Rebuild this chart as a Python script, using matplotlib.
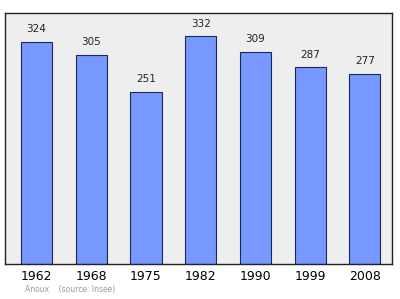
import matplotlib
matplotlib.use("Agg")
from matplotlib import pyplot as plt

years = ["1962", "1968", "1975", "1982", "1990", "1999", "2008"]
population = [324, 305, 251, 332, 309, 287, 277]

fig = plt.figure(figsize=(4, 2.99), dpi=100)
ax = fig.add_axes([0.0125, 0.117, 0.968, 0.84])
ax.set_facecolor("#eeeeee")

x = range(len(years))
ax.bar(x, population, width=0.57, color="#7799ff", edgecolor="#1a2a55", linewidth=0.8)
for i, v in enumerate(population):
    ax.text(i, v + 11, str(v), ha="center", va="bottom", fontsize=7.5, color="#222222")

ax.set_xlim(-0.576, 6.5)
ax.set_ylim(0, 366)
ax.set_xticks(list(x))
ax.set_xticklabels(years, fontsize=9)
ax.tick_params(axis="x", length=0, pad=4)
ax.set_yticks([])
for s in ax.spines.values():
    s.set_color("#222222")
    s.set_linewidth(1.0)

fig.text(0.0625, 0.022, "Anoux    (source: Insee)", fontsize=5.5, color="#999999")

fig.savefig("out.png", dpi=100)
